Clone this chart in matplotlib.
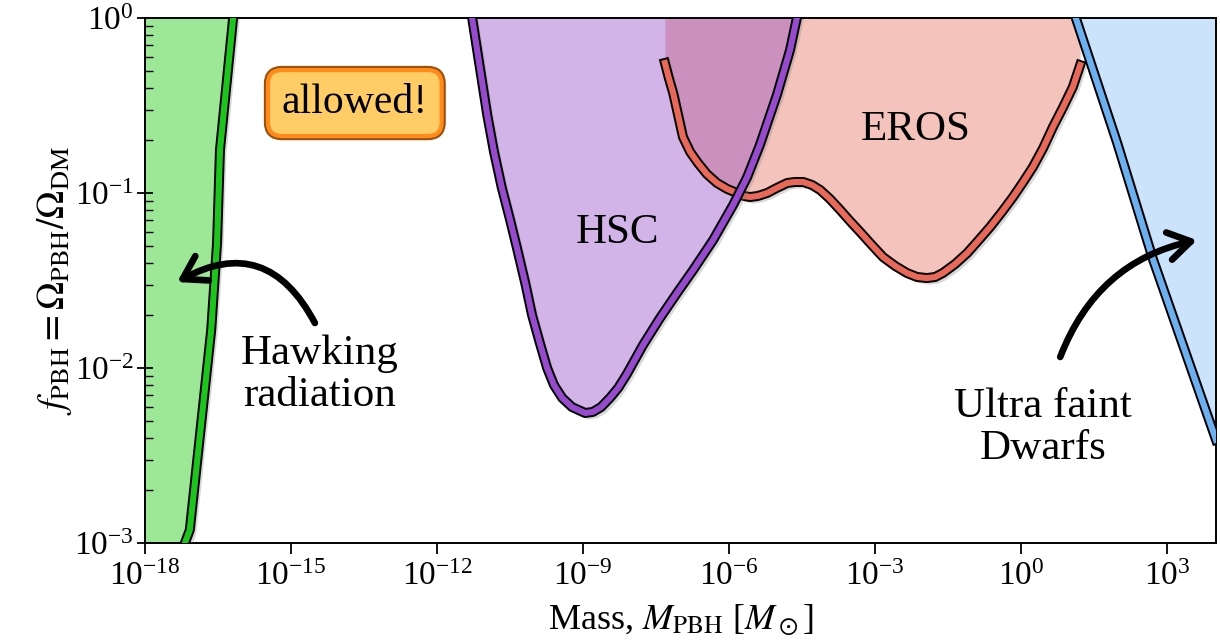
import numpy as np
import matplotlib
matplotlib.use('Agg')
import matplotlib.pyplot as plt
import matplotlib.patheffects as pe
from matplotlib.ticker import NullLocator

plt.rcParams['font.family'] = 'serif'
plt.rcParams['font.serif'] = ['Liberation Serif', 'DejaVu Serif']
plt.rcParams['mathtext.fontset'] = 'stix'

# Constraint boundaries: log10(M_PBH / M_sun) and log10(f_PBH)
hawking_logm = [-16.19, -16.46, -16.52, -16.64, -17.08, -17.18]
hawking_logf = [0.0, -0.754, -1.286, -1.783, -2.926, -3.0]

hsc_logm = [-11.28, -11.12, -10.97, -10.83, -10.67, -10.50, -10.36, -10.19,
            -10.05, -9.89, -9.74, -9.60, -9.43, -9.23, -8.96,
            -8.80, -8.63, -8.45, -8.28, -8.10, -7.77, -7.42, -7.07, -6.74,
            -6.33, -5.92, -5.63, -5.37, -5.02, -4.75, -4.61]
hsc_logf = [0.0, -0.286, -0.554, -0.766, -0.971, -1.154, -1.314, -1.514,
            -1.697, -1.857, -2.0, -2.097, -2.171, -2.223, -2.257,
            -2.251, -2.223, -2.171, -2.114, -2.034, -1.869, -1.714, -1.571, -1.44,
            -1.269, -1.069, -0.909, -0.726, -0.44, -0.183, 0.0]

eros_logm = [-7.32, -7.24, -7.15, -7.05, -6.95, -6.80, -6.64, -6.46, -6.25,
             -6.04, -5.84, -5.70, -5.57, -5.41, -5.22, -5.02, -4.81, -4.65,
             -4.48, -4.30, -4.13, -3.93, -3.72, -3.52, -3.31, -3.07, -2.84,
             -2.59, -2.35, -2.14, -1.94, -1.77, -1.61, -1.36, -1.11, -0.89,
             -0.64, -0.40, -0.17, 0.04, 0.24, 0.45, 0.65, 0.86, 1.06, 1.21]
eros_logf = [-0.257, -0.343, -0.429, -0.554, -0.68, -0.766, -0.829, -0.891,
             -0.943, -0.977, -1.0, -1.017, -1.023, -1.017, -1.0, -0.971,
             -0.943, -0.937, -0.937, -0.954, -0.983, -1.034, -1.097, -1.16,
             -1.223, -1.297, -1.366, -1.417, -1.457, -1.48, -1.486, -1.48,
             -1.457, -1.406, -1.343, -1.274, -1.194, -1.109, -1.023, -0.937,
             -0.851, -0.743, -0.623, -0.509, -0.394, -0.269]

ufd_logm = [1.12, 1.97, 2.71, 4.0]
ufd_logf = [0.0, -0.714, -1.383, -2.41]

xtick_exp = [-18, -15, -12, -9, -6, -3, 0, 3]

hawk_m, hawk_f = 10.0**np.array(hawking_logm), 10.0**np.array(hawking_logf)
hsc_m, hsc_f = 10.0**np.array(hsc_logm), 10.0**np.array(hsc_logf)
eros_m, eros_f = 10.0**np.array(eros_logm), 10.0**np.array(eros_logf)
ufd_m, ufd_f = 10.0**np.array(ufd_logm), 10.0**np.array(ufd_logf)

LW = 4.4


def outlined(lw=LW):
    return [pe.SimpleLineShadow(offset=(2.5, -2.5), shadow_color='0.5', alpha=0.3),
            pe.Stroke(linewidth=lw + 2.8, foreground='k'),
            pe.Normal()]


fig, ax = plt.subplots(figsize=(12.2, 6.43), dpi=100)
fig.subplots_adjust(left=145/1220, right=1216/1220, bottom=1-543/643, top=1-18/643)

# filled excluded regions
ax.fill_betweenx(hawk_f, 1e-19, hawk_m, color='#9de897', lw=0, zorder=1)
ax.fill_between(eros_m, eros_f, 1.0, color='#e46958', alpha=0.4, lw=0, zorder=1)
ax.fill_between(hsc_m, hsc_f, 1.0, color='#9144c6', alpha=0.4, lw=0, zorder=2)
ax.fill_between(ufd_m, ufd_f, 1.0, color='#cbe4fb', lw=0, zorder=2)

# boundary curves
ax.plot(hawk_m, hawk_f, color='#1ec41e', lw=LW, zorder=4, path_effects=outlined())
ax.plot(eros_m, eros_f, color='#e8685a', lw=LW, zorder=4, path_effects=outlined())
ax.plot(hsc_m, hsc_f, color='#964bcd', lw=LW, zorder=5, path_effects=outlined())
ax.plot(ufd_m, ufd_f, color='#6cb0f0', lw=LW, zorder=5, path_effects=outlined())

ax.set_xscale('log')
ax.set_yscale('log')
ax.set_xlim(1e-18, 1e4)
ax.set_ylim(1e-3, 1.0)
ax.set_xticks([10.0**e for e in xtick_exp])
ax.xaxis.set_minor_locator(NullLocator())

ax.tick_params(axis='both', labelsize=24)
ax.tick_params(axis='x', which='major', direction='out', length=8, width=1.3, pad=5)
ax.tick_params(axis='y', which='major', direction='inout', length=12, width=1.3, pad=2)
ax.tick_params(axis='y', which='minor', direction='in', length=6, width=1.0)
for s in ax.spines.values():
    s.set_linewidth(1.4)

ax.set_xlabel(r'Mass, $M_{\rm PBH}$ [$M_\odot$]', fontsize=26, labelpad=8)
ax.set_ylabel(r'$f_{\rm PBH} = \Omega_{\rm PBH}/\Omega_{\rm DM}$', fontsize=27, labelpad=0)

# labels
ax.text(10**-8.30, 10**-1.229, 'HSC', fontsize=31, ha='center', va='center', zorder=6)
ax.text(10**-2.16, 10**-0.64, 'EROS', fontsize=31, ha='center', va='center', zorder=6)
ax.text(10**-14.41, 10**-2.04, 'Hawking\nradiation', fontsize=31, ha='center',
        va='center', linespacing=1.12, zorder=6)
ax.text(10**0.45, 10**-2.34, 'Ultra faint\nDwarfs', fontsize=31, ha='center',
        va='center', linespacing=1.12, zorder=6)

box_fx = [pe.SimplePatchShadow(offset=(1.5, -2), shadow_rgbFace='0.5', alpha=0.3),
          pe.Stroke(linewidth=6, foreground='#9c500c'), pe.Normal()]
ax.text(10**-13.69, 10**-0.486, 'allowed!', fontsize=30, ha='center', va='center',
        zorder=7,
        bbox=dict(boxstyle='round,pad=0.33', fc='#ffcc66', ec='#ff8c1a', lw=3,
                  path_effects=box_fx))

# curved pointers
ax.annotate('', xy=(10**-17.34, 10**-1.509), xytext=(10**-14.51, 10**-1.743),
            arrowprops=dict(arrowstyle='->,head_length=0.8,head_width=0.5',
                            lw=4.8, color='k', connectionstyle='arc3,rad=0.51',
                            shrinkA=0, shrinkB=0, capstyle='round',
                            joinstyle='round', mutation_scale=20), zorder=6)
ax.annotate('', xy=(10**3.61, 10**-1.269), xytext=(10**0.80, 10**-1.937),
            arrowprops=dict(arrowstyle='->,head_length=0.8,head_width=0.5',
                            lw=4.8, color='k', connectionstyle='arc3,rad=-0.27',
                            shrinkA=0, shrinkB=0, capstyle='round',
                            joinstyle='round', mutation_scale=20), zorder=6)

fig.savefig('out.png', dpi=100)
